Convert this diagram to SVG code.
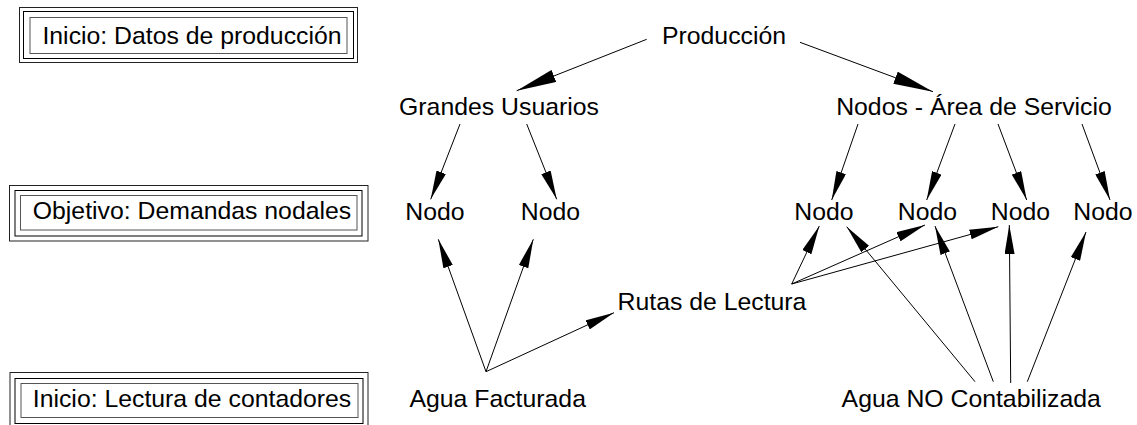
<svg xmlns="http://www.w3.org/2000/svg" width="1137" height="425" viewBox="0 0 1137 425">
<style>
text{font-family:"Liberation Sans",Arial,sans-serif;font-size:24.8px;fill:#000;text-anchor:middle}
.o{fill:none;stroke:#222;stroke-width:1}
.m{fill:none;stroke:#000;stroke-width:1}
.i{fill:none;stroke:#555;stroke-width:1}
.c line{stroke:#000;stroke-width:1}
.s{marker-end:url(#ah)}
.b{marker-end:url(#ahb)}
</style>
<defs>
<marker id="ah" markerUnits="userSpaceOnUse" markerWidth="29" markerHeight="10" viewBox="0 0 29 10" refX="29" refY="5" orient="auto"><path d="M0,0 L29,5 L0,10 z" fill="#000"/></marker>
<marker id="ahb" markerUnits="userSpaceOnUse" markerWidth="40" markerHeight="13" viewBox="0 0 40 13" refX="40" refY="6.5" orient="auto"><path d="M0,0 L40,6.5 L0,13 z" fill="#000"/></marker>
</defs>
<rect width="1137" height="425" fill="#fff"/>
<g id="box-datos">
<rect class="o" x="19.5" y="7.5" width="338" height="55"/>
<rect class="m" x="23.5" y="11.5" width="330" height="47"/>
<rect class="i" x="30" y="17.5" width="317" height="36"/>
<text x="192" y="44">Inicio: Datos de producción</text>
</g>
<g id="box-objetivo">
<rect class="o" x="9.5" y="185.5" width="358.5" height="55.5"/>
<rect class="m" x="15" y="190.5" width="347" height="45.5"/>
<rect class="i" x="20.5" y="195.5" width="336.5" height="34.5"/>
<text x="192" y="219">Objetivo: Demandas nodales</text>
</g>
<g id="box-lectura">
<rect class="o" x="10" y="372.5" width="358" height="56"/>
<rect class="m" x="15" y="378.5" width="348" height="45"/>
<rect class="i" x="21" y="383.5" width="337" height="34"/>
<text x="192" y="407">Inicio: Lectura de contadores</text>
</g>
<g id="produccion"><text x="724" y="44">Producción</text></g>
<g id="grandes-usuarios"><text x="499" y="115">Grandes Usuarios</text></g>
<g id="nodos-area"><text x="974" y="115">Nodos - Área de Servicio</text></g>
<g id="nodo-gu1"><text x="435" y="220">Nodo</text></g>
<g id="nodo-gu2"><text x="550.5" y="220">Nodo</text></g>
<g id="nodo-a1"><text x="824" y="220">Nodo</text></g>
<g id="nodo-a2"><text x="927.5" y="220">Nodo</text></g>
<g id="nodo-a3"><text x="1020.5" y="220">Nodo</text></g>
<g id="nodo-a4"><text x="1103" y="220">Nodo</text></g>
<g id="rutas"><text x="712" y="310">Rutas de Lectura</text></g>
<g id="agua-facturada"><text x="497.7" y="407">Agua Facturada</text></g>
<g id="agua-nc"><text x="971.2" y="407">Agua NO Contabilizada</text></g>
<g id="connectors" class="c">
<line class="b" x1="646.7" y1="39.3" x2="516.7" y2="90.7"/>
<line class="b" x1="800" y1="42.3" x2="933" y2="91.7"/>
<line class="s" x1="460" y1="124" x2="430.7" y2="199.3"/>
<line class="s" x1="526.7" y1="124" x2="556.7" y2="199.3"/>
<line class="s" x1="858" y1="124" x2="831.7" y2="200"/>
<line class="s" x1="955" y1="124" x2="926.7" y2="200"/>
<line class="s" x1="998" y1="124" x2="1026.7" y2="200"/>
<line class="s" x1="1082" y1="124" x2="1110" y2="200"/>
<line class="s" x1="486" y1="371.7" x2="438.3" y2="239.3"/>
<line class="s" x1="486" y1="371.7" x2="533.3" y2="239.3"/>
<line class="s" x1="486" y1="371.7" x2="614" y2="312.7"/>
<line class="s" x1="791.7" y1="284" x2="819.3" y2="226"/>
<line class="s" x1="791.7" y1="284" x2="925" y2="225"/>
<line class="s" x1="791.7" y1="284" x2="998.3" y2="226.7"/>
<line class="s" x1="975" y1="381.7" x2="846.7" y2="226.7"/>
<line class="s" x1="993.3" y1="381.7" x2="935" y2="226"/>
<line class="s" x1="1010.7" y1="383" x2="1009.3" y2="225"/>
<line class="s" x1="1027.3" y1="381.7" x2="1086" y2="232"/>
</g>
</svg>
